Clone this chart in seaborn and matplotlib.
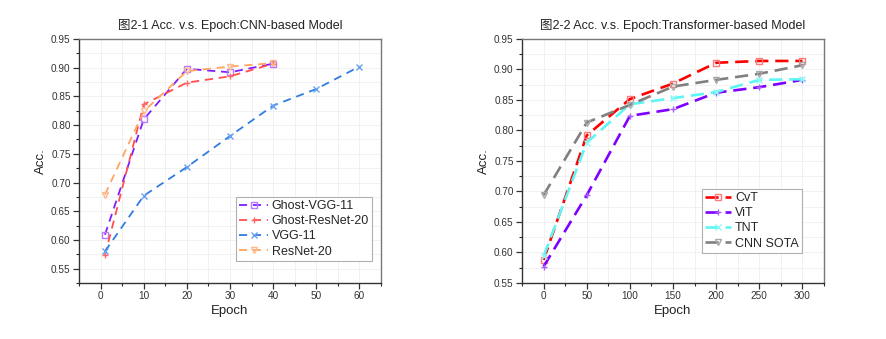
import matplotlib
matplotlib.use("Agg")
import matplotlib.pyplot as plt
from matplotlib.ticker import MultipleLocator
import seaborn as sns

sns.set_style("white")
plt.rcParams["font.family"] = ["Liberation Sans", "Noto Sans CJK SC", "DejaVu Sans"]

# ---- CNN-based models ----
cnn_epochs = [1, 10, 20, 30, 40]
vgg_epochs = [1, 10, 20, 30, 40, 50, 60]
ghost_vgg11 = [0.609, 0.810, 0.898, 0.892, 0.907]
ghost_resnet20 = [0.573, 0.836, 0.874, 0.885, 0.907]
vgg11 = [0.580, 0.677, 0.727, 0.781, 0.834, 0.863, 0.902]
resnet20 = [0.679, 0.824, 0.894, 0.902, 0.908]

# ---- Transformer-based models ----
tf_epochs = [0, 50, 100, 150, 200, 250, 300]
cvt = [0.588, 0.792, 0.8515, 0.877, 0.911, 0.914, 0.914]
vit = [0.577, 0.694, 0.824, 0.835, 0.862, 0.871, 0.883]
tnt = [0.594, 0.780, 0.843, 0.853, 0.863, 0.883, 0.884]
cnn_sota = [0.694, 0.813, 0.842, 0.872, 0.883, 0.893, 0.907]

titles = ["图2-1 Acc. v.s. Epoch:CNN-based Model",
          "图2-2 Acc. v.s. Epoch:Transformer-based Model"]

fig = plt.figure(figsize=(8.86, 3.39), dpi=100)
ax1 = fig.add_axes([0.0892, 0.1652, 0.3409, 0.7198])
ax2 = fig.add_axes([0.5892, 0.1652, 0.3409, 0.7198])

left_series = [
    ("Ghost-VGG-11", cnn_epochs, ghost_vgg11, "#7f1fff", "#b57aff", "s"),
    ("Ghost-ResNet-20", cnn_epochs, ghost_resnet20, "#ff4f4f", "#ff6a6a", "+"),
    ("VGG-11", vgg_epochs, vgg11, "#2f7de1", "#6aa2ef", "x"),
    ("ResNet-20", cnn_epochs, resnet20, "#ffa561", "#ffb98a", "v"),
]
right_series = [
    ("CvT", tf_epochs, cvt, "#ff0000", "#ff7a7a", "s"),
    ("ViT", tf_epochs, vit, "#7f00ff", "#a65cff", "+"),
    ("TNT", tf_epochs, tnt, "#5ff5f5", "#8ff8f8", "x"),
    ("CNN SOTA", tf_epochs, cnn_sota, "#808080", "#a8a8a8", "v"),
]


def draw(ax, series, lw, dash, ms):
    for name, xs, ys, col, mcol, mk in series:
        sns.lineplot(x=xs, y=ys, ax=ax, color=col, lw=lw, label=name,
                     linestyle=(0, dash), marker=mk, markersize=ms,
                     markerfacecolor="none", markeredgecolor=mcol,
                     markeredgewidth=1.0, errorbar=None, sort=False)


draw(ax1, left_series, 1.3, (4.5, 3.2), 5)
draw(ax2, right_series, 1.9, (5.0, 2.6), 4.5)

for ax, title in zip([ax1, ax2], titles):
    ax.set_title(title, fontsize=9, color="#222222", pad=7)
    ax.set_xlabel("Epoch", fontsize=9.5, color="#222222", labelpad=3)
    ax.set_ylabel("Acc.", fontsize=9.5, color="#222222", labelpad=3)
    ax.yaxis.set_major_locator(MultipleLocator(0.05))
    ax.yaxis.set_minor_locator(MultipleLocator(0.025))
    ax.yaxis.set_major_formatter(matplotlib.ticker.FormatStrFormatter("%.2f"))
    ax.tick_params(axis="both", which="major", direction="out", length=4,
                   width=0.9, labelsize=7.2, colors="#333333", pad=2,
                   bottom=True, left=True, top=False, right=False)
    ax.tick_params(axis="both", which="minor", direction="out", length=2.5,
                   width=0.8, bottom=True, left=True, top=False, right=False)
    ax.grid(True, which="both", color="#efefef", lw=0.6)
    ax.set_axisbelow(True)
    for s in ax.spines.values():
        s.set_visible(True)
        s.set_color("#333333")
        s.set_linewidth(1.0)
    ax.spines["top"].set_color("#777777")
    ax.spines["right"].set_color("#777777")

ax1.set_xlim(-5, 65)
ax1.set_ylim(0.525, 0.95)
ax1.xaxis.set_major_locator(MultipleLocator(10))
ax1.xaxis.set_minor_locator(MultipleLocator(5))

ax2.set_xlim(-25, 325)
ax2.set_ylim(0.55, 0.95)
ax2.xaxis.set_major_locator(MultipleLocator(50))
ax2.xaxis.set_minor_locator(MultipleLocator(25))

leg_kw = dict(fontsize=9, frameon=True, fancybox=False, edgecolor="#b0b0b0",
              framealpha=1, borderaxespad=0, handletextpad=0.3,
              labelspacing=0.25, borderpad=0.25, numpoints=1)
leg1 = ax1.legend(loc="upper left", bbox_to_anchor=(0.52, 0.352),
                  handlelength=2.3, **leg_kw)
leg2 = ax2.legend(loc="upper left", bbox_to_anchor=(0.596, 0.385),
                  handlelength=2.1, **leg_kw)
for leg in (leg1, leg2):
    leg.get_frame().set_linewidth(0.8)

fig.savefig("out.png", dpi=100, facecolor="white")
